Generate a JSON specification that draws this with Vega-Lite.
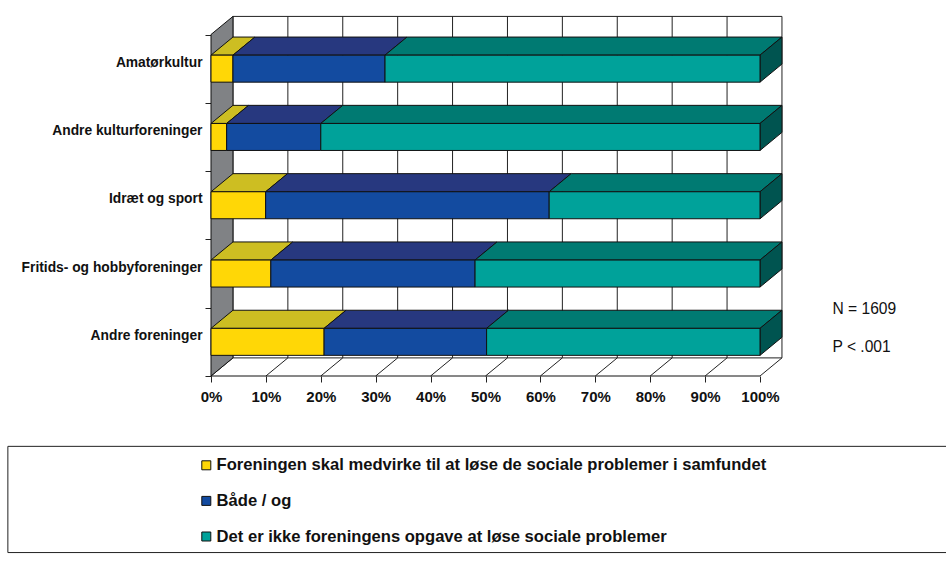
{
"$schema":"https://vega.github.io/schema/vega-lite/v6.json",
"width":571,"height":360,
"autosize":"none",
"padding":{"left":211,"top":16,"right":164,"bottom":196},
"background":"white",
"config":{"view":{"stroke":null},"text":{"font":"Liberation Sans"},"axis":{"labelFont":"Liberation Sans"},"legend":{"labelFont":"Liberation Sans"}},
"datasets":{
"bars":[
{"forening":"Amatørkultur","rank":4,"svar":"Foreningen skal medvirke til at løse de sociale problemer i samfundet","order":1,"pct":4.0},
{"forening":"Amatørkultur","rank":4,"svar":"Både / og","order":2,"pct":27.7},
{"forening":"Amatørkultur","rank":4,"svar":"Det er ikke foreningens opgave at løse sociale problemer","order":3,"pct":68.3},
{"forening":"Andre kulturforeninger","rank":3,"svar":"Foreningen skal medvirke til at løse de sociale problemer i samfundet","order":1,"pct":2.85},
{"forening":"Andre kulturforeninger","rank":3,"svar":"Både / og","order":2,"pct":17.15},
{"forening":"Andre kulturforeninger","rank":3,"svar":"Det er ikke foreningens opgave at løse sociale problemer","order":3,"pct":80.0},
{"forening":"Idræt og sport","rank":2,"svar":"Foreningen skal medvirke til at løse de sociale problemer i samfundet","order":1,"pct":9.95},
{"forening":"Idræt og sport","rank":2,"svar":"Både / og","order":2,"pct":51.65},
{"forening":"Idræt og sport","rank":2,"svar":"Det er ikke foreningens opgave at løse sociale problemer","order":3,"pct":38.4},
{"forening":"Fritids- og hobbyforeninger","rank":1,"svar":"Foreningen skal medvirke til at løse de sociale problemer i samfundet","order":1,"pct":10.9},
{"forening":"Fritids- og hobbyforeninger","rank":1,"svar":"Både / og","order":2,"pct":37.2},
{"forening":"Fritids- og hobbyforeninger","rank":1,"svar":"Det er ikke foreningens opgave at løse sociale problemer","order":3,"pct":51.9},
{"forening":"Andre foreninger","rank":0,"svar":"Foreningen skal medvirke til at løse de sociale problemer i samfundet","order":1,"pct":20.6},
{"forening":"Andre foreninger","rank":0,"svar":"Både / og","order":2,"pct":29.6},
{"forening":"Andre foreninger","rank":0,"svar":"Det er ikke foreningens opgave at løse sociale problemer","order":3,"pct":49.8}
],
"ticks":[{"tick":0},{"tick":10},{"tick":20},{"tick":30},{"tick":40},{"tick":50},{"tick":60},{"tick":70},{"tick":80},{"tick":90},{"tick":100}],
"depth":[{"step":0},{"step":1}],
"single":[{"one":1}]
},
"layer":[
{"data":{"name":"single"},
 "mark":{"type":"rect","fill":"white","stroke":"#222","strokeWidth":1},
 "encoding":{
  "x":{"datum":4,"type":"quantitative","scale":{"domain":[0,104.007],"nice":false},
       "axis":{"values":[0,10,20,30,40,50,60,70,80,90,100],"labelExpr":"datum.value+'%'","title":null,"domain":false,"grid":false,"tickColor":"#222","tickSize":6,"labelFontSize":15,"labelFontWeight":"bold","labelColor":"#111","labelPadding":7,"labelOverlap":false,"labelFlush":false}},
  "x2":{"datum":104},
  "y":{"datum":0.265,"type":"quantitative","scale":{"domain":[0,5.271],"nice":false},
       "axis":{"values":[0,1,2,3,4,5],"labels":false,"title":null,"domain":false,"grid":false,"tickColor":"#222","tickSize":6}},
  "y2":{"datum":5.265}
 }},
{"data":{"name":"ticks"},
 "transform":[{"filter":"datum.tick>0 && datum.tick<100"},{"calculate":"datum.tick+4","as":"bx"}],
 "mark":{"type":"rule","color":"#222","strokeWidth":1},
 "encoding":{
  "x":{"field":"bx","type":"quantitative","scale":{"domain":[0,104.007],"nice":false}},
  "y":{"datum":0.265,"type":"quantitative","scale":{"domain":[0,5.271],"nice":false}},
  "y2":{"datum":5.265}
 }},
{"data":{"name":"ticks"},
 "transform":[{"calculate":"datum.tick+4","as":"bx"}],
 "mark":{"type":"rule","color":"#222","strokeWidth":1},
 "encoding":{
  "x":{"field":"tick","type":"quantitative","scale":{"domain":[0,104.007],"nice":false}},
  "x2":{"field":"bx"},
  "y":{"datum":0,"type":"quantitative","scale":{"domain":[0,5.271],"nice":false}},
  "y2":{"datum":0.265}
 }},
{"data":{"name":"depth"},
 "transform":[{"calculate":"datum.step*4","as":"wx"},{"calculate":"datum.step*0.265","as":"lo"},{"calculate":"5+datum.step*0.265","as":"hi"}],
 "mark":{"type":"area","orient":"vertical","fill":"#808285","stroke":"#111","strokeWidth":1,"opacity":1},
 "encoding":{
  "x":{"field":"wx","type":"quantitative","scale":{"domain":[0,104.007],"nice":false}},
  "y":{"field":"lo","type":"quantitative","scale":{"domain":[0,5.271],"nice":false}},
  "y2":{"field":"hi"}
 }},
{"data":{"name":"single"},
 "mark":{"type":"rule","color":"#111","strokeWidth":1},
 "encoding":{
  "x":{"datum":0,"type":"quantitative","scale":{"domain":[0,104.007],"nice":false}},
  "x2":{"datum":100},
  "y":{"datum":0,"type":"quantitative","scale":{"domain":[0,5.271],"nice":false}}
 }},
{"data":{"name":"bars"},
 "transform":[
  {"stack":"pct","groupby":["forening"],"sort":[{"field":"order","order":"ascending"}],"as":["start","end"]},
  {"calculate":"[0,1]","as":"step"},{"flatten":["step"]},
  {"calculate":"datum.start+datum.step*4","as":"x0"},
  {"calculate":"datum.end+datum.step*4","as":"x1"},
  {"calculate":"datum.rank+0.6977+datum.step*0.265","as":"yy"},
  {"calculate":"datum.forening+datum.order","as":"key"}
 ],
 "mark":{"type":"area","orient":"horizontal","stroke":"#111","strokeWidth":1,"opacity":1},
 "encoding":{
  "x":{"field":"x0","type":"quantitative","scale":{"domain":[0,104.007],"nice":false}},
  "x2":{"field":"x1"},
  "y":{"field":"yy","type":"quantitative","scale":{"domain":[0,5.271],"nice":false}},
  "detail":{"field":"key"},
  "fill":{"condition":[{"test":"datum.order==1","value":"#CDBE22"},{"test":"datum.order==2","value":"#27387F"}],"value":"#007A72"}
 }},
{"data":{"name":"bars"},
 "transform":[
  {"filter":"datum.order==3"},
  {"calculate":"[0,1]","as":"step"},{"flatten":["step"]},
  {"calculate":"100+datum.step*4","as":"sx"},
  {"calculate":"datum.rank+0.3023+datum.step*0.265","as":"lo"},
  {"calculate":"datum.rank+0.6977+datum.step*0.265","as":"hi"}
 ],
 "mark":{"type":"area","orient":"vertical","fill":"#005450","stroke":"#111","strokeWidth":1,"opacity":1},
 "encoding":{
  "x":{"field":"sx","type":"quantitative","scale":{"domain":[0,104.007],"nice":false}},
  "y":{"field":"lo","type":"quantitative","scale":{"domain":[0,5.271],"nice":false}},
  "y2":{"field":"hi"},
  "detail":{"field":"forening"}
 }},
{"data":{"name":"bars"},
 "transform":[
  {"stack":"pct","groupby":["forening"],"sort":[{"field":"order","order":"ascending"}],"as":["start","end"]},
  {"calculate":"datum.rank+0.3023","as":"lo"},
  {"calculate":"datum.rank+0.6977","as":"hi"}
 ],
 "mark":{"type":"rect","stroke":"#111","strokeWidth":1},
 "encoding":{
  "x":{"field":"start","type":"quantitative","scale":{"domain":[0,104.007],"nice":false}},
  "x2":{"field":"end"},
  "y":{"field":"lo","type":"quantitative","scale":{"domain":[0,5.271],"nice":false}},
  "y2":{"field":"hi"},
  "color":{"field":"svar","type":"nominal",
   "scale":{"domain":["Foreningen skal medvirke til at løse de sociale problemer i samfundet","Både / og","Det er ikke foreningens opgave at løse sociale problemer"],"range":["#FFD706","#134BA0","#00A29A"]},
   "legend":{"title":null,"orient":"none","legendX":-13,"legendY":441,"direction":"vertical","symbolType":"square","symbolSize":81,"symbolStrokeColor":"#111","symbolStrokeWidth":1,"symbolOpacity":1,"labelFontSize":16.6,"labelFontWeight":"bold","labelColor":"#111","labelLimit":700,"rowPadding":18.6,"labelOffset":2}}
 }},
{"data":{"name":"bars"},
 "transform":[{"filter":"datum.order==1"},{"calculate":"datum.rank+0.585","as":"ly"}],
 "mark":{"type":"text","align":"right","baseline":"middle","dx":-8.5,"fontSize":13.8,"fontWeight":"bold","color":"#111"},
 "encoding":{
  "x":{"datum":0,"type":"quantitative","scale":{"domain":[0,104.007],"nice":false}},
  "y":{"field":"ly","type":"quantitative","scale":{"domain":[0,5.271],"nice":false}},
  "text":{"field":"forening"}
 }},
{"data":{"name":"single"},
 "mark":{"type":"text","align":"left","baseline":"middle","fontSize":15.6,"color":"#111"},
 "encoding":{
  "x":{"datum":113.2,"type":"quantitative","scale":{"domain":[0,104.007],"nice":false}},
  "y":{"datum":0.98,"type":"quantitative","scale":{"domain":[0,5.271],"nice":false}},
  "text":{"value":"N = 1609"}
 }},
{"data":{"name":"single"},
 "mark":{"type":"text","align":"left","baseline":"middle","fontSize":15.6,"color":"#111"},
 "encoding":{
  "x":{"datum":113.2,"type":"quantitative","scale":{"domain":[0,104.007],"nice":false}},
  "y":{"datum":0.425,"type":"quantitative","scale":{"domain":[0,5.271],"nice":false}},
  "text":{"value":"P < .001"}
 }},
{"data":{"name":"single"},
 "mark":{"type":"rect","fill":null,"stroke":"#222","strokeWidth":1,"clip":false},
 "encoding":{
  "x":{"datum":-37,"type":"quantitative","scale":{"domain":[0,104.007],"nice":false}},
  "x2":{"datum":135},
  "y":{"datum":-1.03,"type":"quantitative","scale":{"domain":[0,5.271],"nice":false}},
  "y2":{"datum":-2.585}
 }}
]
}
